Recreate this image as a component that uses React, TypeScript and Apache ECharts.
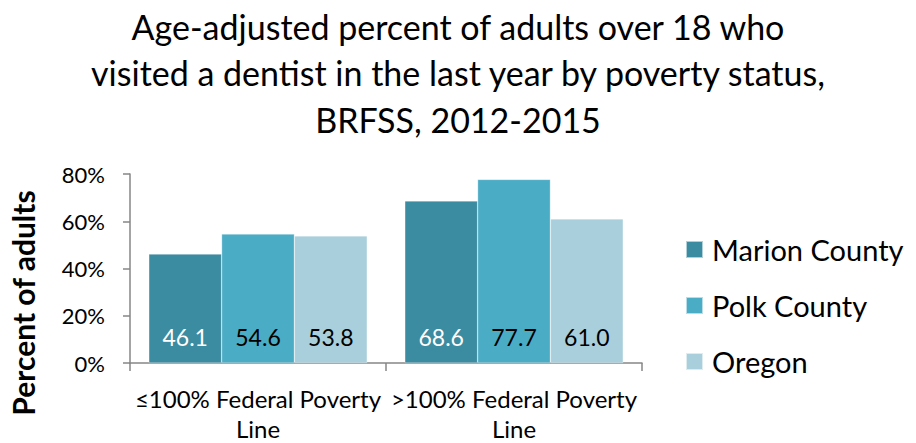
import React, { useEffect, useRef } from "react";
import * as echarts from "echarts";

const categories = ["≤100% Federal Poverty\nLine", ">100% Federal Poverty\nLine"];
const seriesNames = ["Marion County", "Polk County", "Oregon"];
const marion = [46.1, 68.6];
const polk = [54.6, 77.7];
const oregon = [53.8, 61.0];
const colors = ["#3B8BA1", "#4BACC6", "#A9CFDC"];
const labelColors = ["#FFFFFF", "#000000", "#000000"];
const titleText =
  "Age-adjusted percent of adults over 18 who\nvisited a dentist in the last year by poverty status,\nBRFSS, 2012-2015";
const yAxisName = "Percent of adults";

const FONT = "Lato, 'Open Sans', sans-serif";

export default function App() {
  const ref = useRef<HTMLDivElement>(null);
  useEffect(() => {
    if (!ref.current) return;
    const chart = echarts.init(ref.current, undefined, { renderer: "svg" });
    const data = [marion, polk, oregon];
    chart.setOption({
      animation: false,
      backgroundColor: "#FFFFFF",
      textStyle: { fontFamily: FONT },
      graphic: [
        {
          type: "text",
          x: 23,
          y: 303,
          rotation: Math.PI / 2,
          style: {
            text: yAxisName,
            fontFamily: FONT,
            fontSize: 30,
            fontWeight: "bold",
            fill: "#000",
            align: "center",
            verticalAlign: "middle",
          },
        },
      ],
      title: {
        text: titleText,
        left: "center",
        top: 3,
        padding: 0,
        textStyle: {
          fontFamily: FONT,
          fontSize: 34,
          fontWeight: "normal",
          color: "#000",
          lineHeight: 46.5,
        },
      },
      legend: {
        orient: "vertical",
        left: 685,
        top: 235,
        padding: 0,
        itemWidth: 17,
        itemHeight: 17,
        itemGap: 27,
        icon: "rect",
        data: seriesNames,
        textStyle: {
          fontFamily: FONT,
          fontSize: 29,
          color: "#000",
          lineHeight: 28,
          padding: [0, 0, 0, 4],
        },
      },
      grid: {
        left: 130,
        width: 512,
        top: 174,
        height: 189,
        containLabel: false,
        outerBoundsMode: "none",
      },
      xAxis: {
        type: "category",
        data: categories,
        axisLine: { lineStyle: { color: "#868686", width: 1.5 } },
        axisTick: { show: true, length: 8, lineStyle: { color: "#868686", width: 1.5 } },
        axisLabel: {
          fontFamily: FONT,
          fontSize: 24,
          color: "#000",
          lineHeight: 30,
          margin: 20,
          interval: 0,
        },
      },
      yAxis: {
        type: "value",
        min: 0,
        max: 80,
        interval: 20,
        axisLine: { show: true, lineStyle: { color: "#868686", width: 1.5 } },
        axisTick: { show: true, length: 7, lineStyle: { color: "#868686", width: 1.5 } },
        splitLine: { show: false },
        axisLabel: {
          formatter: "{value}%",
          fontFamily: FONT,
          fontSize: 22,
          color: "#000",
          margin: 25,
        },
      },
      series: seriesNames.map((name, i) => ({
        name,
        type: "bar",
        data: data[i],
        barGap: "0%",
        barCategoryGap: "14.7%",
        itemStyle: { color: colors[i], borderColor: "rgba(255,255,255,0.6)", borderWidth: 0.5 },
        label: {
          show: true,
          position: "insideBottom",
          distance: 15,
          fontFamily: FONT,
          fontSize: 23,
          color: labelColors[i],
          formatter: (p: any) => Number(p.value).toFixed(1),
        },
      })),
    });
    return () => chart.dispose();
  }, []);
  return (
    <div
      ref={ref}
      style={{ position: "fixed", left: 0, top: 0, width: 916, height: 443 }}
    />
  );
}
